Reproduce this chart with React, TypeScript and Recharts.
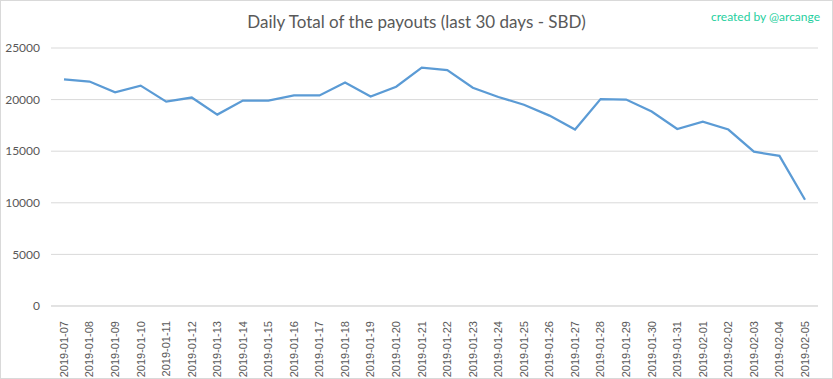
import { LineChart, Line, XAxis, YAxis, CartesianGrid } from "recharts";

const dates = [
  "2019-01-07", "2019-01-08", "2019-01-09", "2019-01-10", "2019-01-11",
  "2019-01-12", "2019-01-13", "2019-01-14", "2019-01-15", "2019-01-16",
  "2019-01-17", "2019-01-18", "2019-01-19", "2019-01-20", "2019-01-21",
  "2019-01-22", "2019-01-23", "2019-01-24", "2019-01-25", "2019-01-26",
  "2019-01-27", "2019-01-28", "2019-01-29", "2019-01-30", "2019-01-31",
  "2019-02-01", "2019-02-02", "2019-02-03", "2019-02-04", "2019-02-05",
];

const payouts = [
  21950, 21750, 20700, 21350, 19800,
  20200, 18550, 19900, 19900, 20400,
  20400, 21650, 20300, 21250, 23100,
  22850, 21150, 20250, 19500, 18450,
  17100, 20050, 20000, 18850, 17150,
  17850, 17100, 14950, 14550, 10300,
];

const yTicks = [0, 5000, 10000, 15000, 20000, 25000];

const data = dates.map((d, i) => ({ date: d, value: payouts[i] }));

const DateTick = ({ x, y, payload }: any) => (
  <text
    transform={`translate(${x},${y + 7}) rotate(-90)`}
    textAnchor="end"
    dy="0.35em"
    fill="#595959"
    fontSize={11}
    fontFamily="'Liberation Sans', Arial, sans-serif"
  >
    {payload.value}
  </text>
);

export default function App() {
  return (
    <div
      style={{
        position: "fixed",
        top: 0,
        left: 0,
        width: 833,
        height: 379,
        boxSizing: "border-box",
        border: "1px solid #d9d9d9",
        background: "#ffffff",
      }}
    >
      <div
        style={{
          position: "absolute",
          top: 10,
          left: 0,
          width: 831,
          textAlign: "center",
          fontFamily: "Lato, 'Open Sans', sans-serif",
          fontSize: 17,
          color: "#595959",
        }}
      >
        Daily Total of the payouts (last 30 days - SBD)
      </div>
      <div
        style={{
          position: "absolute",
          top: 8,
          right: 12,
          fontFamily: "Lato, 'Open Sans', sans-serif",
          fontSize: 12,
          color: "#1fcfa0",
        }}
      >
        created by @arcange
      </div>
      <div style={{ position: "absolute", top: -1, left: -1 }}>
        <LineChart
          width={833}
          height={379}
          data={data}
          margin={{ top: 48, right: 15, bottom: 0, left: 0 }}
        >
          <CartesianGrid vertical={false} stroke="#d9d9d9" strokeWidth={1} />
          <XAxis
            dataKey="date"
            interval={0}
            height={73}
            padding={{ left: 13, right: 13 }}
            axisLine={{ stroke: "#d9d9d9" }}
            tickLine={false}
            tick={<DateTick />}
          />
          <YAxis
            domain={[0, 25000]}
            ticks={yTicks}
            width={51}
            axisLine={false}
            tickLine={false}
            tickMargin={5}
            tick={{ fill: "#595959", fontSize: 12, fontFamily: "Lato, sans-serif" }}
          />
          <Line
            type="linear"
            dataKey="value"
            stroke="#5b9bd5"
            strokeWidth={2.25}
            dot={false}
            isAnimationActive={false}
          />
        </LineChart>
      </div>
    </div>
  );
}
